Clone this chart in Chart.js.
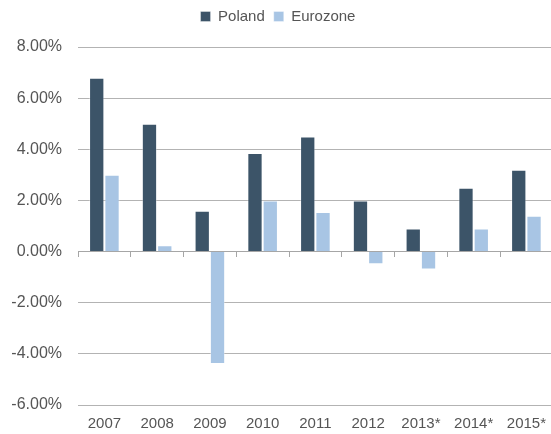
<!DOCTYPE html>
<html>
<head>
<meta charset="utf-8">
<script src="https://cdn.jsdelivr.net/npm/chart.js@4/dist/chart.umd.min.js"></script>
<style>
  html, body { margin: 0; padding: 0; background: #fff; overflow: hidden; }
  #wrap { width: 556px; height: 434px; position: relative; }
</style>
</head>
<body>
<div id="wrap"><canvas id="c"></canvas></div>
<script>
const categories = ['2007', '2008', '2009', '2010', '2011', '2012', '2013*', '2014*', '2015*'];
const poland = [6.8, 5.0, 1.6, 3.85, 4.5, 2.0, 0.9, 2.5, 3.2];
const eurozone = [3.0, 0.25, -4.4, 2.0, 1.55, -0.5, -0.7, 0.9, 1.4];
const yTicks = [-6, -4, -2, 0, 2, 4, 6, 8];

const FAMILY = '"Liberation Sans", Arial, Helvetica, sans-serif';
const FONT = { family: FAMILY, size: 15 };
const YFONT = { family: FAMILY, size: 16 };
const TEXT = '#555555';

const legendGap = {
  id: 'legendGap',
  beforeInit(chart) {
    const fit = chart.legend.fit;
    chart.legend.fit = function () {
      fit.bind(chart.legend)();
      this.height += 13;
    };
  }
};

new Chart(document.getElementById('c'), {
  type: 'bar',
  data: {
    labels: categories,
    datasets: [
      { label: 'Poland', data: poland, backgroundColor: '#3c5468', borderColor: 'rgba(255,255,255,0.35)', borderWidth: 1 },
      { label: 'Eurozone', data: eurozone, backgroundColor: '#a8c5e4', borderColor: 'rgba(255,255,255,0.35)', borderWidth: 1 }
    ]
  },
  plugins: [legendGap],
  options: {
    responsive: true,
    maintainAspectRatio: false,
    animation: false,
    datasets: { bar: { barPercentage: 1, categoryPercentage: 0.58 } },
    layout: { padding: 0 },
    plugins: {
      tooltip: { enabled: false },
      legend: {
        position: 'top',
        labels: { boxWidth: 10, boxHeight: 10, padding: 9, color: TEXT, font: FONT }
      }
    },
    scales: {
      x: {
        grid: { display: false, drawTicks: false },
        border: { display: false },
        ticks: { color: TEXT, font: FONT, padding: 10 },
        afterFit: s => { s.height = 29; }
      },
      x0: {
        type: 'category',
        labels: categories,
        position: { y: 0 },
        offset: true,
        grid: { display: true, drawOnChartArea: false, drawTicks: true, tickLength: 5, color: '#a6a6a6', offset: true },
        border: { display: true, color: '#a6a6a6', width: 1 },
        ticks: { display: false },
        afterFit: s => { s.height = 0; }
      },
      y: {
        min: -6, max: 8,
        afterBuildTicks: s => { s.ticks = yTicks.map(v => ({ value: v })); },
        ticks: { color: TEXT, font: YFONT, padding: 16, callback: v => v.toFixed(2) + '%' },
        grid: { color: '#b3b3b3', drawTicks: false, lineWidth: 1 },
        border: { display: false },
        afterFit: s => { s.width = 78; }
      }
    }
  }
});
</script>
</body>
</html>
